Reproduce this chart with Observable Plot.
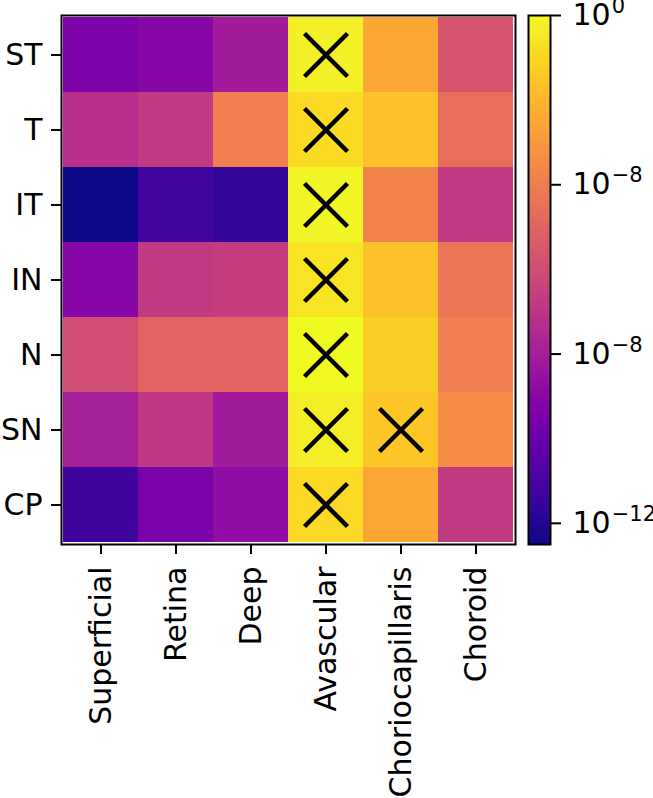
<!DOCTYPE html>
<html>
<head>
<meta charset="utf-8">
<script src="https://cdn.jsdelivr.net/npm/d3@7"></script>
<script src="https://cdn.jsdelivr.net/npm/@observablehq/plot@0.6"></script>
<style>
  html, body { margin: 0; padding: 0; background: white; }
  #wrap { position: relative; width: 653px; height: 798px; }
  #wrap svg { position: absolute; left: 0; top: 0; overflow: visible; }
</style>
</head>
<body>
<div id="wrap"></div>
<script>
const rows = ["ST", "T", "IT", "IN", "N", "SN", "CP"];
const cols = ["Superficial", "Retina", "Deep", "Avascular", "Choriocapillaris", "Choroid"];

// values per row (Superficial, Retina, Deep, Avascular, Choriocapillaris, Choroid)
const ST = [4.2e-10, 7.4e-10, 7.4e-9, 0.56, 3.2e-3, 2.4e-6];
const T  = [5.6e-8, 1.8e-7, 1e-4, 0.13, 0.024, 2.4e-5];
const IT = [3.2e-13, 5.6e-12, 2.4e-12, 0.75, 1.8e-4, 1.8e-7];
const IN = [7.4e-10, 1.8e-7, 2.4e-7, 0.24, 0.024, 5.6e-5];
const N  = [1e-6, 1e-5, 1e-5, 1, 0.056, 1e-4];
const SN = [1e-8, 1.3e-7, 7.4e-9, 0.42, 0.032, 4.2e-4];
const CP = [4.2e-12, 3.2e-10, 1.8e-9, 0.13, 3.2e-3, 1.8e-7];

// cells marked with a cross: [row, column]
const crossed = [
  ["ST", "Avascular"], ["T", "Avascular"], ["IT", "Avascular"], ["IN", "Avascular"],
  ["N", "Avascular"], ["SN", "Avascular"], ["CP", "Avascular"], ["SN", "Choriocapillaris"]
];

// colorbar
const cbDomain = [10 ** -12.5, 1];
const cbTicks = [1, 1e-4, 1e-8, 1e-12];
const cbTickBase = "10";
const cbTickExponents = ["0", "\u22128", "\u22128", "\u221212"];

const byRow = {ST, T, IT, IN, N, SN, CP};
const table = rows.flatMap(r => cols.map((c, j) => ({row: r, col: c, value: byRow[r][j]})));
const crossTable = crossed.map(([row, col]) => ({row, col}));

const font = {fontSize: "30px", fontFamily: "DejaVu Sans", color: "black", background: "transparent", overflow: "visible"};
const colorScale = {type: "log", scheme: "plasma", domain: cbDomain};

const main = Plot.plot({
  width: 653, height: 798,
  marginLeft: 61, marginRight: 138, marginTop: 15, marginBottom: 254,
  style: font,
  x: {domain: cols, padding: 0},
  y: {domain: rows, padding: 0},
  color: colorScale,
  marks: [
    Plot.cell(table, {x: "col", y: "row", fill: "value", inset: 0}),
    Plot.dot(crossTable, {x: "col", y: "row", symbol: "times", r: 19.6, stroke: "black", strokeWidth: 4.5}),
    Plot.frame({stroke: "black", strokeWidth: 2}),
    Plot.axisX({anchor: "bottom", tickSize: 10, tickPadding: 12, tickRotate: -90, strokeWidth: 2, label: null, fill: "black"}),
    Plot.axisY({anchor: "left", tickSize: 10, tickPadding: 9, strokeWidth: 2, label: null, fill: "black"})
  ]
});

const nSteps = 530;
const stepSize = 12.5 / nSteps;
const steps = d3.range(0, nSteps).map(i => -12.5 + stepSize * i);
const cbData = steps.map(e => ({lo: 10 ** e, hi: 10 ** Math.min(e + stepSize * 1.6, 0), mid: 10 ** (e + stepSize / 2)}));
const expMap = new Map(cbTicks.map((t, i) => [t, cbTickExponents[i]]));

const bar = Plot.plot({
  width: 653, height: 798,
  marginLeft: 528, marginRight: 103, marginTop: 15, marginBottom: 254,
  style: font,
  x: {domain: [0, 1], axis: null},
  y: {type: "log", domain: cbDomain},
  color: colorScale,
  marks: [
    Plot.rect(cbData, {x1: 0, x2: 1, y1: "lo", y2: "hi", fill: "mid", shapeRendering: "crispEdges"}),
    Plot.frame({stroke: "black", strokeWidth: 2}),
    Plot.axisY({anchor: "right", ticks: cbTicks, tickFormat: d => cbTickBase + "^" + expMap.get(d), tickSize: 10, tickPadding: 12, strokeWidth: 2, label: null, fill: "black"})
  ]
});

// render exponents as raised, smaller text
bar.querySelectorAll("text").forEach(t => {
  const s = t.textContent;
  if (!s.includes("^")) return;
  const [base, exp] = s.split("^");
  while (t.firstChild) t.removeChild(t.firstChild);
  const ns = "http://www.w3.org/2000/svg";
  const b = document.createElementNS(ns, "tspan");
  b.textContent = base;
  const e = document.createElementNS(ns, "tspan");
  e.textContent = exp;
  e.setAttribute("font-size", "21px");
  e.setAttribute("dy", "-12");
  e.setAttribute("dx", "1");
  t.appendChild(b);
  t.appendChild(e);
});

const wrap = document.getElementById("wrap");
wrap.appendChild(main);
wrap.appendChild(bar);
</script>
</body>
</html>
